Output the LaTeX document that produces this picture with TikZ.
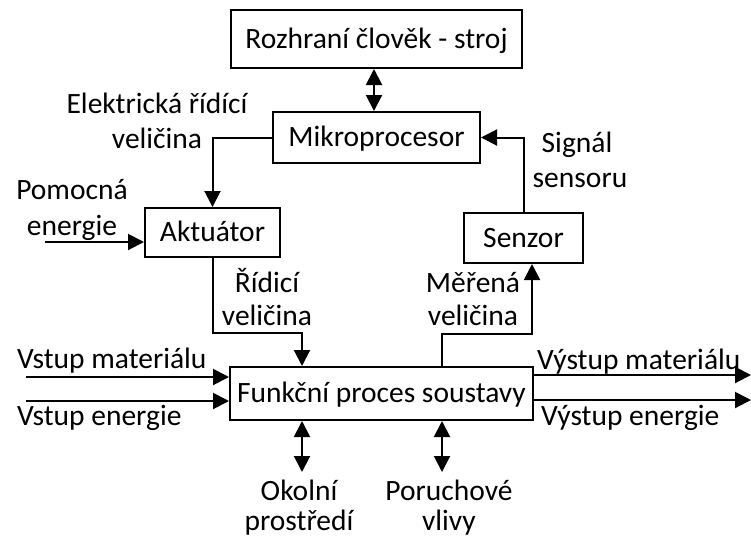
\documentclass[tikz,border=0pt]{standalone}
\usepackage{fontspec}
\setmainfont{Carlito}
\usetikzlibrary{arrows.meta}
\begin{document}
\begin{tikzpicture}[x=1pt, y=-1pt,
  font=\fontsize{29.5}{35}\selectfont,
  box/.style={draw, line width=2pt, inner sep=0pt, text height=22pt, text depth=4pt},
  lbl/.style={anchor=base, inner sep=0pt},
  conn/.style={line width=2pt},
  tip/.style={-{Triangle[length=16pt,width=16pt]}},
  dtip/.style={{Triangle[length=16pt,width=16pt]}-{Triangle[length=16pt,width=16pt]}}
]
\useasboundingbox (0,0) rectangle (751,539);

% blocks
\node[box, minimum width=291pt, minimum height=58pt] (hmi)  at (376.5,39)   {Rozhraní člověk - stroj};
\node[box, minimum width=207pt, minimum height=51pt] (mcu)  at (376.5,137.5) {Mikroprocesor};
\node[box, minimum width=135pt, minimum height=49pt] (akt)  at (212.5,232.5) {Aktuátor};
\node[box, minimum width=119pt, minimum height=50pt] (sen)  at (523.5,238)   {Senzor};
\node[box, minimum width=303pt, minimum height=53pt] (proc) at (381.5,393.5) {Funkční proces soustavy};

% helper points
\coordinate (xhmi) at (374,0);
\coordinate (bendA) at (302,333);
\coordinate (bendB) at (442,334);
\coordinate (xsen) at (532,0);
\coordinate (inA) at (26,377);
\coordinate (inB) at (26,401);
\coordinate (outA) at (751,375);
\coordinate (outB) at (751,400);
\coordinate (aux) at (45,242);
\coordinate (envA) at (302,472);
\coordinate (envB) at (442,472);

% connectors
\draw[conn, dtip] (hmi.south -| xhmi) -- (mcu.north -| xhmi);
\draw[conn, tip] (mcu.west) -| (akt.north);
\draw[conn, tip] (sen.north) |- (mcu.east);
\draw[conn, tip] (akt.south) |- (bendA) -- (proc.north -| bendA);
\draw[conn, tip] (proc.north -| bendB) -- (bendB) -| (sen.south -| xsen);
\draw[conn, tip] (aux) -- (akt.west |- aux);
\draw[conn, tip] (inA) -- (proc.west |- inA);
\draw[conn, tip] (inB) -- (proc.west |- inB);
\draw[conn, tip] (proc.east |- outA) -- (outA);
\draw[conn, tip] (proc.east |- outB) -- (outB);
\draw[conn, dtip] (proc.south -| envA) -- (envA);
\draw[conn, dtip] (proc.south -| envB) -- (envB);

% labels
\node[lbl] (l1a) at (157,113) {Elektrická řídící};
\node[lbl] (l1b) at (157,148) {veličina};
\node[lbl] (l2a) at (72,199) {Pomocná};
\node[lbl] (l2b) at (72,235) {energie};
\node[lbl] (l3a) at (577,152) {Signál};
\node[lbl] (l3b) at (580,187) {sensoru};
\node[lbl] (l4a) at (267,292) {Řídicí};
\node[lbl] (l4b) at (267,325) {veličina};
\node[lbl] (l5a) at (473,292) {Měřená};
\node[lbl] (l5b) at (473,325) {veličina};
\node[lbl, anchor=base west] (l6) at (17,368) {Vstup materiálu};
\node[lbl, anchor=base west] (l7) at (17,425) {Vstup energie};
\node[lbl, anchor=base west] (l8) at (537,369) {Výstup materiálu};
\node[lbl, anchor=base west] (l9) at (541,425) {Výstup energie};
\node[lbl] (l10a) at (299,500) {Okolní};
\node[lbl] (l10b) at (299,530) {prostředí};
\node[lbl] (l11a) at (449,500) {Poruchové};
\node[lbl] (l11b) at (449,530) {vlivy};
\end{tikzpicture}
\end{document}
